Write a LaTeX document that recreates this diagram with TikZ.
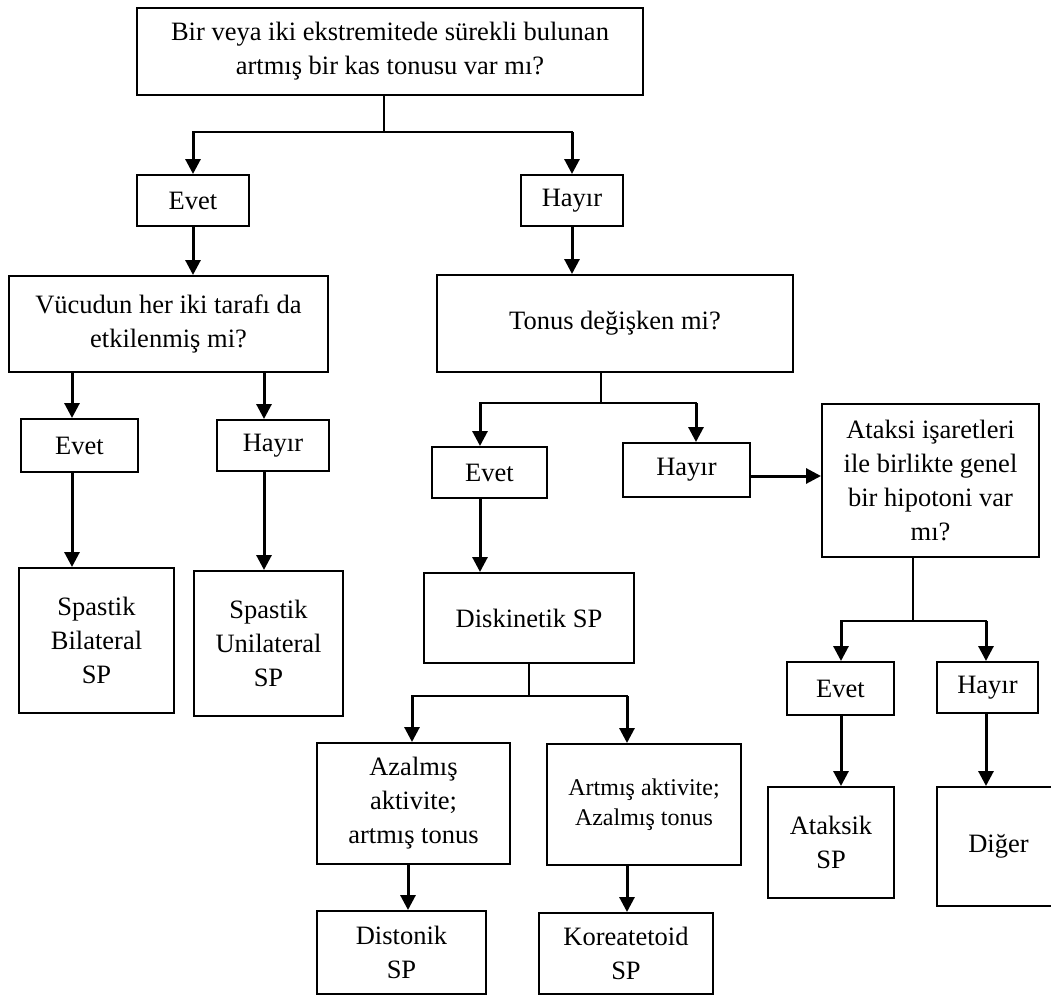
\documentclass[tikz,border=0pt]{standalone}
\usepackage{fontspec}
\setmainfont{Liberation Serif}
\usetikzlibrary{arrows.meta}
\begin{document}
\begin{tikzpicture}[x=0.5pt,y=-0.5pt,
  box/.style n args={2}{draw, line width=1pt, rectangle, inner sep=0pt, align=center,
    minimum width=#1*0.5pt, minimum height=#2*0.5pt,
    font=\fontsize{13.25}{17}\selectfont},
  arr/.style={line width=1.5pt, -{Triangle[width=7.5pt,length=7.5pt]}},
  trunk/.style={line width=0.6pt, line cap=rect}]
\fill[white] (0,0) rectangle (1051,996);
\useasboundingbox (0,0) rectangle (1051,996);

% boxes
\node[box={506}{87}] (top) at (390,51.5) {Bir veya iki ekstremitede sürekli bulunan\\artmış bir kas tonusu var mı?};
\node[box={112}{51}] (evet1) at (193,200.5) {Evet};
\node[box={102}{51}] (hayir1) at (572,200.5) {Hayır};
\node[box={319}{96}] (vucud) at (168.5,324) {Vücudun her iki tarafı da\\etkilenmiş mi?};
\node[box={117}{53}] (evet2) at (79.5,445.5) {Evet};
\node[box={112}{51}] (hayir2) at (273,445.5) {Hayır};
\node[box={155}{145}] (bil) at (96.5,640.5) {Spastik\\Bilateral\\SP};
\node[box={149}{145}] (uni) at (268.5,643.5) {Spastik\\Unilateral\\SP};
\node[box={356}{97}] (tonus) at (615,323.5) {Tonus değişken mi?};
\node[box={115}{51}] (evet3) at (489.5,472.5) {Evet};
\node[box={127}{54}] (hayir3) at (686.5,470) {Hayır};
\node[box={217}{153}] (ataksi) at (930.5,480.5) {Ataksi işaretleri\\ile birlikte genel\\bir hipotoni var\\mı?};
\node[box={107}{53}] (evet4) at (840.5,688.5) {Evet};
\node[box={101}{51}] (hayir4) at (987.5,687.5) {Hayır};
\node[box={126}{111}] (ataksik) at (831,842.5) {Ataksik\\SP};
\node[box={123}{119}] (diger) at (998.5,846.5) {Diğer};
\node[box={210}{90}] (disk) at (529,618) {Diskinetik SP};
\node[box={193}{121}] (azal) at (413.5,803.5) {Azalmış\\aktivite;\\artmış tonus};
\node[box={194}{121}, font=\fontsize{12}{15}\selectfont] (artm) at (644,804.5) {Artmış aktivite;\\Azalmış tonus};
\node[box={169}{83}] (dist) at (401.5,952.5) {Distonik\\SP};
\node[box={174}{81}] (kore) at (626,953.5) {Koreatetoid\\SP};

% junctions and connector columns
\coordinate (j1) at (384,132);
\coordinate (j2) at (601,403);
\coordinate (j3) at (529,696);
\coordinate (j4) at (913,621);
\coordinate (ca) at (72,0);
\coordinate (cb) at (264,0);
\coordinate (ce) at (480,0);
\coordinate (cf) at (696,0);
\coordinate (cg) at (412,0);
\coordinate (ch) at (627,0);
\coordinate (ci) at (408,0);
\coordinate (ck) at (841,0);
\coordinate (cl) at (986,0);

% first question
\draw[trunk] (top.south -| j1) -- (j1);
\draw[trunk] (j1 -| evet1) -- (j1 -| hayir1);
\draw[arr] (j1 -| evet1) -- (evet1.north);
\draw[arr] (j1 -| hayir1) -- (hayir1.north);

% left branch
\draw[arr] (evet1.south) -- (vucud.north -| evet1.south);
\draw[arr] (vucud.south -| ca) -- (evet2.north -| ca);
\draw[arr] (vucud.south -| cb) -- (hayir2.north -| cb);
\draw[arr] (evet2.south -| ca) -- (bil.north -| ca);
\draw[arr] (hayir2.south -| cb) -- (uni.north -| cb);

% right branch
\draw[arr] (hayir1.south) -- (tonus.north -| hayir1.south);
\draw[trunk] (tonus.south -| j2) -- (j2);
\draw[trunk] (j2 -| ce) -- (j2 -| cf);
\draw[arr] (j2 -| ce) -- (evet3.north -| ce);
\draw[arr] (j2 -| cf) -- (hayir3.north -| cf);
\draw[arr] ([yshift=-3pt]hayir3.east) coordinate (h3) -- (h3 -| ataksi.west);

% dyskinetic branch
\draw[arr] (evet3.south -| ce) -- (disk.north -| ce);
\draw[trunk] (disk.south -| j3) -- (j3);
\draw[trunk] (j3 -| cg) -- (j3 -| ch);
\draw[arr] (j3 -| cg) -- (azal.north -| cg);
\draw[arr] (j3 -| ch) -- (artm.north -| ch);
\draw[arr] (azal.south -| ci) -- (dist.north -| ci);
\draw[arr] (artm.south -| ch) -- (kore.north -| ch);

% ataxia branch
\draw[trunk] (ataksi.south -| j4) -- (j4);
\draw[trunk] (j4 -| ck) -- (j4 -| cl);
\draw[arr] (j4 -| ck) -- (evet4.north -| ck);
\draw[arr] (j4 -| cl) -- (hayir4.north -| cl);
\draw[arr] (evet4.south -| ck) -- (ataksik.north -| ck);
\draw[arr] (hayir4.south -| cl) -- (diger.north -| cl);
\end{tikzpicture}
\end{document}
